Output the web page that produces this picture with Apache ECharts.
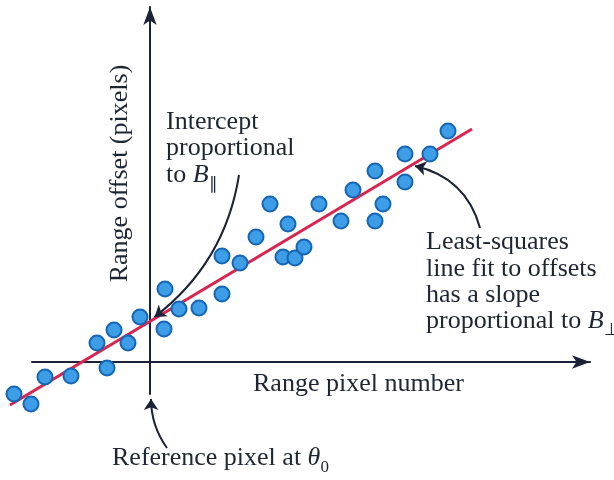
<!DOCTYPE html>
<html><head><meta charset="utf-8">
<script src="https://cdn.jsdelivr.net/npm/echarts@6/dist/echarts.min.js"></script>
<style>html,body{margin:0;padding:0;background:#fff;}#c{width:614px;height:480px;}</style>
</head><body><div id="c"></div>
<script>
// Range pixel number (relative to reference pixel) and range offset values
const pixelX = [-13.6,-11.9,-10.5,-7.9,-5.3,-4.3,-3.6,-2.2,-1.0,1.5,1.4,2.9,4.9,7.2,7.2,9.0,10.6,12.0,13.3,13.8,14.5,15.4,16.9,19.1,20.3,22.5,22.5,23.3,25.5,25.5,28.0,29.8];
const offsetY = [-3.2,-4.2,-1.5,-1.4,1.9,-0.6,3.2,1.9,4.5,7.3,3.3,5.3,5.4,6.8,10.6,9.9,12.5,15.8,10.5,13.8,10.4,11.5,15.8,14.1,17.2,19.1,14.1,15.8,20.8,18.0,20.8,23.1];
// least-squares fit line endpoints
const fitX = [-14.0, 32.2];
const fitY = [-4.3, 23.3];

const FONT = "'Liberation Serif','Times New Roman',serif";
const INK = '#1e2533';
const AX = '#1b2235';

const chart = echarts.init(document.getElementById('c'), null, {renderer: 'canvas'});

function txt(x, y, text, rich, extra) {
  return Object.assign({
    type: 'text', x: x, y: y, z: 100,
    style: {
      text: text, rich: rich,
      fontFamily: FONT, fontSize: 26, fill: INK,
      textAlign: 'left', align: 'left',
      textVerticalAlign: 'middle', verticalAlign: 'middle'
    }
  }, extra || {});
}
const subRich = {
  n: {fontFamily: FONT, fontSize: 26, lineHeight: 36, color: INK},
  i: {fontFamily: FONT, fontSize: 26, lineHeight: 36, fontStyle: 'italic', color: INK},
  s: {fontFamily: FONT, fontSize: 17, lineHeight: 12, verticalAlign: 'bottom', color: INK}
};

const option = {
  animation: false,
  backgroundColor: '#ffffff',
  grid: {left: 32, right: 24, top: 7, bottom: 86, containLabel: false},
  xAxis: {
    type: 'value', min: -11.8, max: 44.0,
    axisLine: {show: true, onZero: true, symbol: ['none', 'arrow'], symbolSize: [10, 18],
      lineStyle: {color: AX, width: 2}},
    axisTick: {show: false}, axisLabel: {show: false}, splitLine: {show: false}
  },
  yAxis: {
    type: 'value', min: -3.2, max: 35.5,
    axisLine: {show: true, onZero: true, symbol: ['none', 'arrow'], symbolSize: [10, 18],
      lineStyle: {color: AX, width: 2}},
    axisTick: {show: false}, axisLabel: {show: false}, splitLine: {show: false}
  },
  series: [
    {
      type: 'lines', coordinateSystem: 'cartesian2d', clip: false, z: 2,
      symbol: ['none', 'none'],
      lineStyle: {color: '#d8244e', width: 3, opacity: 1, curveness: 0},
      data: [{coords: fitX.map((x, i) => [x, fitY[i]])}]
    },
    {
      type: 'scatter', data: pixelX.map((x, i) => [x, offsetY[i]]),
      symbolSize: 15, clip: false, z: 3,
      itemStyle: {color: '#3d9de6', borderColor: '#1766b5', borderWidth: 2, opacity: 1}
    },
    {
      type: 'lines', coordinateSystem: 'cartesian2d', clip: false, z: 4,
      symbol: ['none', 'arrow'], symbolSize: 11,
      lineStyle: {color: AX, width: 2, opacity: 1},
      data: [
        {coords: [[8.9, 18.7], [0.45, 4.5]], lineStyle: {curveness: 0.2}},
        {coords: [[33.0, 13.4], [26.5, 19.6]], lineStyle: {curveness: -0.3}},
        {coords: [[1.7, -8.6], [0.1, -3.7]], lineStyle: {curveness: 0.16}}
      ]
    }
  ],
  graphic: [
    txt(166, 122, 'Intercept'),
    txt(166, 148, 'proportional'),
    txt(166, 175, '{n|to }{i|B}{s|∥}', subRich),
    txt(426, 242.5, 'Least-squares'),
    txt(426, 269, 'line fit to offsets'),
    txt(426, 295.5, 'has a slope'),
    txt(426, 321.5, '{n|proportional to }{i|B}{s|⊥}', subRich),
    txt(253, 384.5, 'Range pixel number'),
    txt(112, 458, '{n|Reference pixel at }{i|θ}{s|0}', subRich),
    {
      type: 'text', x: 120, y: 173.5, rotation: Math.PI / 2, z: 100,
      style: {text: 'Range offset (pixels)', fontFamily: FONT, fontSize: 26, fill: INK,
        textAlign: 'center', align: 'center', textVerticalAlign: 'middle', verticalAlign: 'middle'}
    }
  ]
};
chart.setOption(option);
</script>
</body></html>
